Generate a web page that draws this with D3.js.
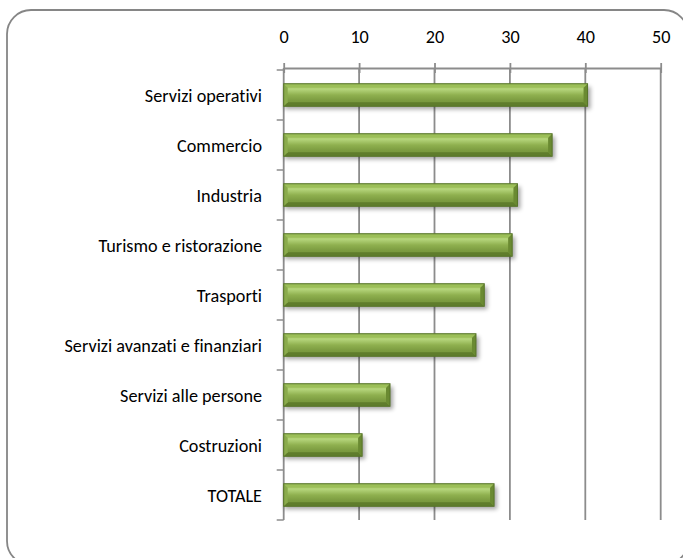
<!DOCTYPE html>
<html>
<head>
<meta charset="utf-8">
<script src="https://cdn.jsdelivr.net/npm/d3@7/dist/d3.min.js"></script>
<style>
  html, body { margin: 0; padding: 0; background: #fff; overflow: hidden; }
  svg { display: block; }
  text { font-variant-ligatures: none; font-feature-settings: "liga" 0; }
</style>
</head>
<body>
<svg id="chart" width="683" height="558"></svg>
<script>
// Sector categories, top to bottom
const categories = [
  "Servizi operativi",
  "Commercio",
  "Industria",
  "Turismo e ristorazione",
  "Trasporti",
  "Servizi avanzati e finanziari",
  "Servizi alle persone",
  "Costruzioni",
  "TOTALE"
];
// Values per category
const values = [40.3, 35.6, 31.0, 30.3, 26.6, 25.5, 14.1, 10.4, 27.9];
// Axis tick values
const tickValues = [0, 10, 20, 30, 40, 50];

const data = categories.map((c, i) => ({ cat: c, val: values[i] }));

const svg = d3.select("#chart");
const font = "Carlito, Calibri, 'Liberation Sans', Arial, sans-serif";
const fontSize = 18.2;
const grey = "#8c8c8c";

// Outer rounded frame (runs past the right and bottom edges)
svg.append("rect")
  .attr("x", 7).attr("y", 10)
  .attr("width", 681).attr("height", 555)
  .attr("rx", 24).attr("ry", 24)
  .attr("fill", "#fff")
  .attr("stroke", "#868686")
  .attr("stroke-width", 1.8);

const x = d3.scaleLinear().domain([0, 50]).range([283.7, 660.7]);
const y = d3.scaleBand().domain(categories).range([70, 520])
  .paddingInner(0.55).paddingOuter(0.275);
const step = y.step();

const defs = svg.append("defs");
const face = defs.append("linearGradient").attr("id", "face")
  .attr("x1", 0).attr("y1", 0).attr("x2", 0).attr("y2", 1);
face.append("stop").attr("offset", "0").attr("stop-color", "#a6c666");
face.append("stop").attr("offset", "0.25").attr("stop-color", "#b4d47a");
face.append("stop").attr("offset", "0.5").attr("stop-color", "#8fb04f");
face.append("stop").attr("offset", "0.75").attr("stop-color", "#7b9b40");
face.append("stop").attr("offset", "1").attr("stop-color", "#76953c");

const blur = defs.append("filter").attr("id", "shadow")
  .attr("x", "-10%").attr("y", "-50%").attr("width", "120%").attr("height", "200%");
blur.append("feGaussianBlur").attr("stdDeviation", 2.2);

// Vertical gridlines
svg.append("g").selectAll("line")
  .data(tickValues.filter(v => v > 0))
  .join("line")
  .attr("x1", d => x(d)).attr("x2", d => x(d))
  .attr("y1", 68).attr("y2", 520)
  .attr("stroke", grey).attr("stroke-width", 1.8);

// Value axis along the top
const axisTop = d3.axisTop(x).tickValues(tickValues).tickSize(0).tickPadding(0);
const gx = svg.append("g").attr("transform", "translate(0,68)").call(axisTop);
gx.select(".domain").attr("stroke", grey).attr("stroke-width", 1.8);
gx.selectAll(".tick line").attr("y1", -5).attr("y2", 5)
  .attr("stroke", grey).attr("stroke-width", 1.8);
gx.selectAll(".tick text")
  .attr("y", -25.5).attr("dy", 0)
  .attr("font-family", font).attr("font-size", fontSize).attr("fill", "#000");

// Category axis on the left
const axisLeft = d3.axisLeft(y).tickSize(0).tickPadding(21.7);
const gy = svg.append("g").attr("transform", `translate(${x(0)},0)`).call(axisLeft);
gy.select(".domain").remove();
gy.selectAll(".tick text")
  .attr("dy", "0.4em")
  .attr("font-family", font).attr("font-size", fontSize).attr("fill", "#000");
svg.append("line")
  .attr("x1", x(0)).attr("x2", x(0)).attr("y1", 68).attr("y2", 520)
  .attr("stroke", grey).attr("stroke-width", 1.8);
svg.append("g").selectAll("line")
  .data(d3.range(categories.length + 1))
  .join("line")
  .attr("x1", x(0) - 7).attr("x2", x(0))
  .attr("y1", i => 70 + i * step).attr("y2", i => 70 + i * step)
  .attr("stroke", grey).attr("stroke-width", 1.5);

// Bevelled bars
const bars = svg.append("g").selectAll("g").data(data).join("g");
const b = 4;
bars.append("rect")
  .attr("x", x(0) + 1).attr("y", d => y(d.cat) + 3)
  .attr("width", d => x(d.val) - x(0) + 2).attr("height", y.bandwidth())
  .attr("fill", "#000").attr("opacity", 0.35)
  .attr("filter", "url(#shadow)");
bars.append("rect")
  .attr("x", x(0)).attr("y", d => y(d.cat))
  .attr("width", d => x(d.val) - x(0)).attr("height", y.bandwidth())
  .attr("fill", "url(#face)");
// bottom bevel
bars.append("path").attr("fill", "#5f7d2c").attr("d", d => {
  const x0 = x(0), x1 = x(d.val), y1 = y(d.cat) + y.bandwidth();
  return `M${x0},${y1}L${x1},${y1}L${x1 - b},${y1 - b}L${x0 + b},${y1 - b}Z`;
});
// top bevel
bars.append("path").attr("fill", "#9cbf58").attr("d", d => {
  const x0 = x(0), x1 = x(d.val), y0 = y(d.cat);
  return `M${x0},${y0}L${x1},${y0}L${x1 - b},${y0 + b}L${x0 + b},${y0 + b}Z`;
});
// left bevel
bars.append("path").attr("fill", "#8aab4c").attr("d", d => {
  const x0 = x(0), y0 = y(d.cat), y1 = y0 + y.bandwidth();
  return `M${x0},${y0}L${x0 + b},${y0 + b}L${x0 + b},${y1 - b}L${x0},${y1}Z`;
});
// right bevel
bars.append("path").attr("fill", "#6a8a32").attr("d", d => {
  const x1 = x(d.val), y0 = y(d.cat), y1 = y0 + y.bandwidth();
  return `M${x1},${y0}L${x1 - b},${y0 + b}L${x1 - b},${y1 - b}L${x1},${y1}Z`;
});
bars.append("rect")
  .attr("x", x(0)).attr("y", d => y(d.cat))
  .attr("width", d => x(d.val) - x(0)).attr("height", y.bandwidth())
  .attr("fill", "none").attr("stroke", "#567328").attr("stroke-width", 1);
</script>
</body>
</html>
